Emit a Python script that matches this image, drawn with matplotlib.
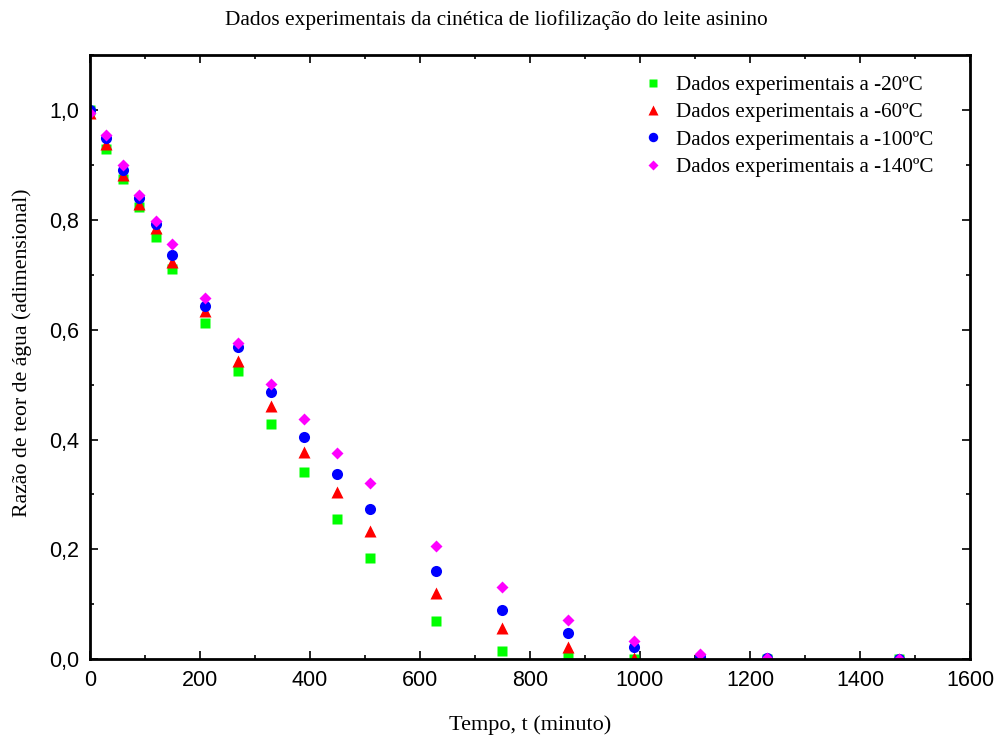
#!/usr/bin/env python3
import matplotlib
matplotlib.use('Agg')
import matplotlib.pyplot as plt
from matplotlib.ticker import FuncFormatter, MultipleLocator

# time (minutes)
t = [0, 30, 60, 90, 120, 150, 210, 270, 330, 390, 450, 510, 630, 750, 870, 990, 1110, 1230, 1470]

# moisture ratio per temperature
y_20 = [1.000, 0.929, 0.874, 0.823, 0.769, 0.710, 0.612, 0.525, 0.428, 0.341, 0.255, 0.184,
        0.069, 0.015, 0.004, 0.000, 0.000, 0.000, 0.000]
y_60 = [0.995, 0.938, 0.882, 0.830, 0.785, 0.723, 0.634, 0.543, 0.461, 0.377, 0.304, 0.233,
        0.120, 0.056, 0.022, 0.002, 0.000, 0.000, 0.000]
y_100 = [1.000, 0.949, 0.891, 0.840, 0.792, 0.737, 0.643, 0.568, 0.486, 0.404, 0.337, 0.273,
         0.160, 0.089, 0.047, 0.022, 0.004, 0.001, 0.000]
y_140 = [0.995, 0.954, 0.900, 0.845, 0.798, 0.756, 0.657, 0.575, 0.501, 0.437, 0.375, 0.320,
         0.206, 0.131, 0.072, 0.033, 0.010, 0.002, 0.000]

labels = ['Dados experimentais a -20ºC', 'Dados experimentais a -60ºC',
          'Dados experimentais a -100ºC', 'Dados experimentais a -140ºC']

serif = 'Liberation Serif'
sans = 'Liberation Sans'

fig = plt.figure(figsize=(9.99, 7.38), dpi=100)
ax = fig.add_axes([0.090, 0.107, 0.881, 0.818])

ax.plot(t, y_20, 's', color='#00ff00', ms=7, mec='none', label=labels[0])
ax.plot(t, y_60, '^', color='#ff0000', ms=8, mec='none', label=labels[1])
ax.plot(t, y_100, 'o', color='#0000ff', ms=8, mec='none', label=labels[2])
ax.plot(t, y_140, 'D', color='#ff00ff', ms=6, mec='none', label=labels[3])

ax.set_xlim(0, 1600)
ax.set_ylim(0, 1.1)
ax.xaxis.set_major_locator(MultipleLocator(200))
ax.xaxis.set_minor_locator(MultipleLocator(100))
ax.yaxis.set_major_locator(MultipleLocator(0.2))
ax.yaxis.set_minor_locator(MultipleLocator(0.1))
ax.yaxis.set_major_formatter(FuncFormatter(lambda v, p: f'{v:.1f}'.replace('.', ',')))

for s in ax.spines.values():
    s.set_linewidth(2)
ax.tick_params(which='both', direction='in', top=True, right=True, width=1.2)
ax.tick_params(which='major', length=6, labelsize=15.5, pad=8)
ax.tick_params(which='minor', length=3)
for lab in ax.get_xticklabels() + ax.get_yticklabels():
    lab.set_fontfamily(sans)

# title centred on the figure, not the axes
fig.text(0.497, 0.973, 'Dados experimentais da cinética de liofilização do leite asinino',
         ha='center', va='center', fontfamily=serif, fontsize=15.4)
ax.set_xlabel('Tempo, t (minuto)', fontfamily=serif, fontsize=16)
ax.xaxis.set_label_coords(0.5, -0.093)
ax.set_ylabel('Razão de teor de água (adimensional)', fontfamily=serif, fontsize=15.7)
ax.yaxis.set_label_coords(-0.066, 0.507)

ax.legend(loc='upper left', bbox_to_anchor=(0.606, 0.981), frameon=False,
          prop={'family': serif, 'size': 15.2}, markerscale=0.85,
          handletextpad=0.1, labelspacing=0.36, borderaxespad=0)

fig.savefig('out.png', dpi=100)
plt.close(fig)
